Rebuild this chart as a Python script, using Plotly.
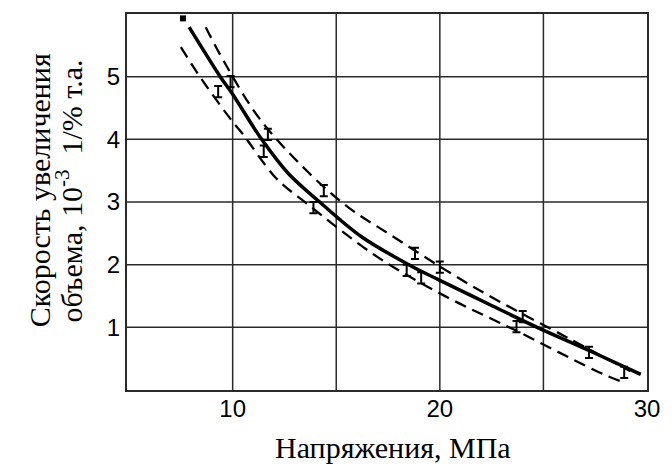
import plotly.graph_objects as go

# Fitted curve (solid) and confidence band (dashed), stress in MPa vs. volume growth rate
fit_x = [7.9, 9.4, 10.0, 11.4, 12.7, 14.2, 16.2, 18.5, 20.0, 22.3, 24.7, 27.2, 29.7]
fit_y = [5.79, 5.0, 4.72, 4.0, 3.45, 3.0, 2.45, 2.0, 1.75, 1.38, 1.0, 0.63, 0.25]

upper_x = [8.7, 9.6, 11.3, 13.6, 15.6, 17.5, 21.6, 26.3, 29.2]
upper_y = [5.79, 5.23, 4.33, 3.49, 2.91, 2.5, 1.65, 0.81, 0.30]

lower_x = [7.5, 8.5, 10.0, 10.5, 12.1, 13.6, 17.0, 20.3, 23.6, 27.9, 28.9]
lower_y = [5.47, 4.96, 4.28, 4.08, 3.38, 2.97, 2.12, 1.49, 0.96, 0.25, 0.12]

# Measured points with scatter whiskers
pts_x = [9.3, 9.9, 11.5, 11.7, 13.9, 14.4, 18.4, 18.8, 19.1, 20.0, 23.7, 24.0, 27.2, 28.9]
pts_y = [4.76, 4.92, 3.81, 4.08, 2.91, 3.18, 1.91, 2.18, 1.79, 1.96, 1.01, 1.17, 0.60, 0.28]
pts_err = [0.09] * len(pts_x)

start_x = [7.6]
start_y = [5.93]

x_ticks = [10, 20, 30]
y_ticks = [1, 2, 3, 4, 5]
x_grid = [10, 15, 20, 25]
y_grid = [1, 2, 3, 4, 5]

x_title = "Напряжения, МПа"
y_title_lines = ["Скорость увеличения", "объема, 10<sup>-3</sup>\u00a0 1/% т.а."]

fig = go.Figure()

dash_style = dict(color="black", width=2.3, dash="12px,7px")
fig.add_trace(go.Scatter(x=upper_x, y=upper_y, mode="lines", line=dict(shape="spline", **dash_style)))
fig.add_trace(go.Scatter(x=lower_x, y=lower_y, mode="lines", line=dict(shape="spline", **dash_style)))
fig.add_trace(go.Scatter(x=fit_x, y=fit_y, mode="lines",
                         line=dict(color="black", width=3.5, shape="spline")))
fig.add_trace(go.Scatter(
    x=pts_x, y=pts_y, mode="markers",
    marker=dict(size=1, color="black"),
    error_y=dict(type="data", array=pts_err, color="black", thickness=2, width=4),
))
fig.add_trace(go.Scatter(x=start_x, y=start_y, mode="markers",
                         marker=dict(symbol="square", size=6, color="black")))

grid_color = "#2a2a2a"
shapes = []
for gx in x_grid:
    shapes.append(dict(type="line", xref="x", yref="paper", x0=gx, x1=gx, y0=0, y1=1,
                       line=dict(color=grid_color, width=1.5), layer="below"))
for gy in y_grid:
    shapes.append(dict(type="line", xref="paper", yref="y", x0=0, x1=1, y0=gy, y1=gy,
                       line=dict(color=grid_color, width=1.5), layer="below"))

serif = dict(family="Liberation Serif, Times New Roman", size=30, color="black")

fig.update_layout(
    width=672, height=473,
    margin=dict(l=127, r=15, t=13, b=83),
    paper_bgcolor="white", plot_bgcolor="white",
    showlegend=False,
    shapes=shapes,
    font=dict(family="Liberation Sans, Arial", size=24, color="black"),
    xaxis=dict(range=[4.9, 30], tickvals=x_ticks, ticktext=[str(v) for v in x_ticks],
               showgrid=False, zeroline=False, showline=True, linecolor=grid_color,
               linewidth=2, mirror=True, ticks="", tickfont=dict(size=24),
               ticklabelstandoff=-4),
    yaxis=dict(range=[0, 6], tickvals=y_ticks, ticktext=[str(v) for v in y_ticks],
               showgrid=False, zeroline=False, showline=True, linecolor=grid_color,
               linewidth=2, mirror=True, ticks="", tickfont=dict(size=24)),
    annotations=[
        dict(text=x_title, xref="paper", yref="paper",
             x=0.512, y=-0.152, xanchor="center", yanchor="middle", showarrow=False,
             font=serif),
        dict(text=y_title_lines[0], xref="paper", yref="paper", x=-0.168, y=0.53,
             textangle=-90, xanchor="center", yanchor="middle", showarrow=False, font=serif),
        dict(text=y_title_lines[1], xref="paper", yref="paper", x=-0.112, y=0.53,
             textangle=-90, xanchor="center", yanchor="middle", showarrow=False, font=serif),
    ],
)

fig.write_html("out.html")
